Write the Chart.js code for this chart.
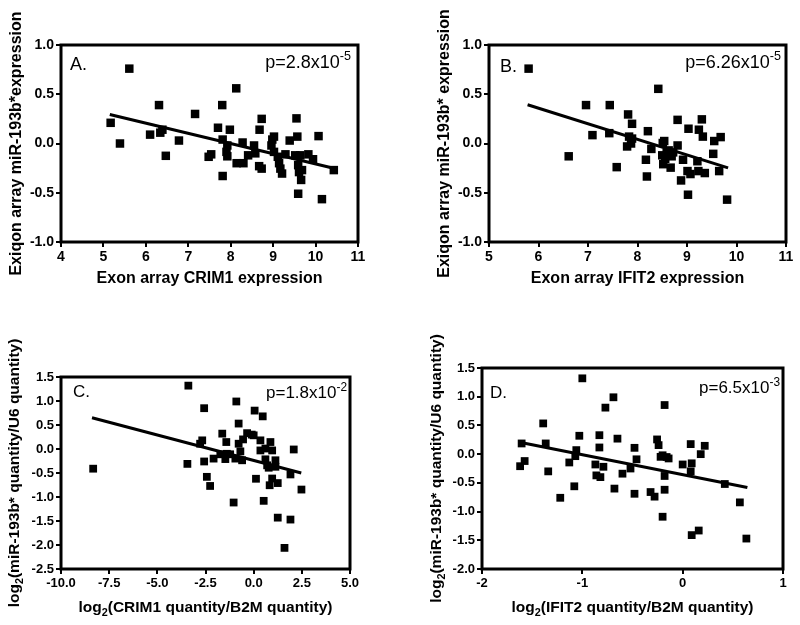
<!DOCTYPE html>
<html>
<head>
<meta charset="utf-8">
<script src="https://cdn.jsdelivr.net/npm/chart.js@4.4.0/dist/chart.umd.min.js"></script>
<style>
  html, body { margin: 0; padding: 0; background: #fff; }
  #wrap { position: relative; width: 800px; height: 625px; }
  canvas { position: absolute; }
</style>
</head>
<body>
<div id="wrap">
  <canvas id="chartA" width="400" height="310" style="left:0;top:0;width:400px;height:310px"></canvas>
  <canvas id="chartB" width="400" height="310" style="left:400px;top:0;width:400px;height:310px"></canvas>
  <canvas id="chartC" width="400" height="315" style="left:0;top:310px;width:400px;height:315px"></canvas>
  <canvas id="chartD" width="400" height="315" style="left:400px;top:310px;width:400px;height:315px"></canvas>
</div>
<script>
// A: exon array CRIM1 vs exiqon miR-193b*
const crim1Exon = [5.17, 5.61, 5.39, 6.10, 6.31, 6.34, 6.39, 6.47, 6.78, 7.16, 7.48, 7.54, 7.70, 7.80, 7.81, 7.81, 7.98, 7.92, 7.90, 7.92,
  8.13, 8.14, 8.28, 8.30, 8.41, 8.55, 8.58, 8.67, 8.68, 8.73, 8.73, 8.96, 8.98, 9.02, 9.02, 9.11, 9.14, 9.17, 9.21, 9.29,
  9.39, 9.52, 9.55, 9.57, 9.59, 9.59, 9.61, 9.64, 9.66, 9.68, 9.83, 9.94, 10.07, 10.15, 10.43];
const mirExiqonA = [0.21, 0.76, 0.00, 0.09, 0.39, 0.11, 0.14, -0.125, 0.03, 0.30, -0.135, -0.11, 0.16, 0.39, 0.04, -0.33, 0.14, -0.02, -0.085, -0.13,
  0.56, -0.20, 0.01, -0.20, -0.12, -0.02, -0.10, -0.23, 0.14, 0.25, -0.255, -0.02, 0.04, 0.07, -0.085, -0.135, -0.20, -0.255, -0.305, -0.11,
  0.03, -0.12, 0.255, 0.07, -0.22, -0.51, -0.29, -0.12, -0.37, -0.27, -0.11, -0.16, 0.075, -0.565, -0.27];
const fitAx = [5.15, 10.45];
const fitAy = [0.295, -0.254];

// B: exon array IFIT2 vs exiqon miR-193b*
const ifit2Exon = [5.80, 6.61, 6.96, 7.09, 7.44, 7.43, 7.58, 7.81, 7.89, 7.83, 7.79, 7.87, 7.89, 8.17, 8.21, 8.19, 8.28, 8.42, 8.51, 8.54,
  8.50, 8.52, 8.56, 8.59, 8.63, 8.67, 8.69, 8.72, 8.81, 8.81, 8.88, 8.92, 9.03, 9.02, 9.01, 9.07, 9.21, 9.24, 9.30, 9.32,
  9.23, 9.36, 9.53, 9.55, 9.65, 9.68, 9.81];
const mirExiqonB = [0.76, -0.13, 0.39, 0.085, 0.39, 0.105, -0.24, 0.295, 0.20, 0.07, -0.03, 0.00, 0.05, -0.165, 0.125, -0.335, -0.055, 0.555, 0.005, 0.025,
  -0.12, -0.21, -0.155, -0.095, -0.07, -0.245, -0.13, -0.09, -0.02, 0.24, -0.375, -0.165, 0.15, -0.52, -0.28, -0.31, -0.18, 0.14, 0.245, 0.07,
  -0.28, -0.30, -0.105, 0.025, -0.28, 0.065, -0.57];
const fitBx = [5.78, 9.83];
const fitBy = [0.393, -0.247];

// C: qPCR CRIM1/B2M vs miR-193b*/U6
const crim1Qpcr = [-8.33, -3.39, -3.44, -2.57, -2.67, -2.78, -2.57, -2.43, -2.26, -2.08, -1.63, -1.73, -1.42, -1.39, -1.47, -1.22, -0.95, -1.04, -0.90, -0.78,
  -0.78, -0.69, -0.60, -0.55, -0.34, -0.10, 0.00, 0.05, 0.12, 0.35, 0.35, 0.47, 0.52, 0.61, 0.61, 0.70, 0.78, 0.83, 0.87, 0.96,
  0.96, 1.13, 1.13, 1.25, 1.25, 1.60, 1.91, 1.91, 2.08, 2.48];
const mirQpcrC = [-0.41, 1.32, -0.31, 0.85, 0.18, 0.11, -0.26, -0.58, -0.77, -0.20, 0.32, -0.11, 0.145, -0.10, -0.21, -0.11, -0.20, -1.115, 0.99, 0.53,
  0.11, -0.05, -0.235, 0.20, 0.33, 0.30, 0.285, 0.80, -0.62, 0.18, -0.03, 0.68, -1.08, 0.01, -0.215, -0.34, -0.39, -0.755, 0.145, -0.03,
  -0.615, -0.235, -0.37, -0.71, -1.43, -2.06, -0.53, -1.47, -0.01, -0.845];
const fitCx = [-8.39, 2.47];
const fitCy = [0.65, -0.50];

// D: qPCR IFIT2/B2M vs miR-193b*/U6
const ifit2Qpcr = [-1.605, -1.62, -1.575, -1.39, -1.365, -1.34, -1.22, -1.13, -1.08, -1.07, -1.06, -1.03, -1.00, -0.87, -0.86, -0.83, -0.83, -0.82, -0.79, -0.77,
  -0.69, -0.68, -0.65, -0.60, -0.52, -0.48, -0.48, -0.46, -0.32, -0.28, -0.255, -0.24, -0.22, -0.20, -0.18, -0.18, -0.18, -0.20, -0.16, -0.14,
  0.00, 0.08, 0.09, 0.08, 0.09, 0.16, 0.18, 0.22, 0.42, 0.57, 0.635];
const mirQpcrD = [0.186, -0.21, -0.12, 0.535, 0.186, -0.30, -0.76, -0.145, -0.56, -0.035, 0.07, 0.32, 1.32, -0.18, -0.37, 0.33, 0.116, -0.40, -0.22, 0.81,
  0.99, -0.60, 0.27, -0.34, -0.25, 0.11, -0.69, -0.09, -0.66, -0.74, 0.256, 0.157, -0.047, -0.02, 0.855, -0.38, -0.62, -1.09, -0.05, -0.075,
  -0.18, 0.175, -0.16, -0.30, -1.41, -1.33, 0.0, 0.145, -0.52, -0.84, -1.47];
const fitDx = [-1.60, 0.645];
const fitDy = [0.198, -0.58];

// tick values
const xTicksA = [4, 5, 6, 7, 8, 9, 10, 11];
const xTicksB = [5, 6, 7, 8, 9, 10, 11];
const yTicksAB = [-1.0, -0.5, 0.0, 0.5, 1.0];
const xTicksC = [-10, -7.5, -5, -2.5, 0, 2.5, 5];
const yTicksC = [-2.5, -2.0, -1.5, -1.0, -0.5, 0.0, 0.5, 1.0, 1.5];
const xTicksD = [-2, -1, 0, 1];
const yTicksD = [-2.0, -1.5, -1.0, -0.5, 0.0, 0.5, 1.0, 1.5];

const FONT = '"Liberation Sans", Arial, Helvetica, sans-serif';
Chart.defaults.font.family = FONT;
Chart.defaults.color = '#000';

const zip = (xs, ys) => xs.map((x, i) => ({ x: x, y: ys[i] }));

// draws text made of normal / sub / sup pieces, y is the baseline
function drawRich(ctx, segs, x, y, size, weight, align) {
  let total = 0;
  const parts = segs.map(s => {
    const sz = (s.sub || s.sup) ? size * 0.7 : size;
    ctx.font = weight + ' ' + sz + 'px ' + FONT;
    const w = ctx.measureText(s.t).width;
    total += w;
    return { s: s, sz: sz, w: w };
  });
  let cx = align === 'center' ? x - total / 2 : (align === 'right' ? x - total : x);
  parts.forEach(p => {
    ctx.font = weight + ' ' + p.sz + 'px ' + FONT;
    let dy = 0;
    if (p.s.sub) dy = size * 0.28;
    if (p.s.sup) dy = -size * 0.42;
    ctx.fillText(p.s.t, cx, y + dy);
    cx += p.w;
  });
}

const decorPlugin = {
  id: 'decor',
  afterDraw(chart) {
    const o = chart.options.plugins.decor;
    const a = chart.chartArea;
    const ctx = chart.ctx;
    ctx.save();
    ctx.fillStyle = '#000';
    ctx.textBaseline = 'alphabetic';
    // frame
    ctx.strokeStyle = '#000';
    ctx.lineWidth = 3;
    ctx.strokeRect(a.left, a.top, a.right - a.left, a.bottom - a.top);
    // panel letter and p value
    drawRich(ctx, [{ t: o.letter }], a.left + o.letterDx, a.top + o.letterDy, o.noteSize, 'normal', 'left');
    drawRich(ctx, o.pval, a.right - o.pDx, a.top + o.pDy, o.noteSize, 'normal', 'right');
    // x title
    drawRich(ctx, o.xTitle, (a.left + a.right) / 2, a.bottom + o.xTitleDy, o.titleSize, 'bold', 'center');
    // y title
    ctx.translate(a.left - o.yTitleDx, (a.top + a.bottom) / 2);
    ctx.rotate(-Math.PI / 2);
    drawRich(ctx, o.yTitle, 0, 0, o.titleSize, 'bold', 'center');
    ctx.restore();
  }
};

function makePanel(id, p) {
  const axis = (ticks, digits, size) => ({
    type: 'linear',
    min: ticks[0],
    max: ticks[ticks.length - 1],
    afterBuildTicks: s => { s.ticks = ticks.map(v => ({ value: v })); },
    border: { display: false },
    grid: { drawOnChartArea: false, color: '#000', lineWidth: 2, tickLength: 5 },
    ticks: {
      font: { size: size, weight: 'bold' },
      color: '#000',
      padding: 2,
      callback: v => Number(v).toFixed(digits)
    }
  });
  const xAxis = axis(p.xTicks, p.xDigits, p.tickSize);
  xAxis.afterFit = s => { s.height = p.xHeight; };
  xAxis.ticks.maxRotation = 0;
  const yAxis = axis(p.yTicks, 1, p.tickSize);
  yAxis.afterFit = s => { s.width = p.yWidth; };

  new Chart(document.getElementById(id), {
    type: 'scatter',
    data: {
      datasets: [
        {
          data: zip(p.xs, p.ys),
          pointStyle: 'rect',
          pointRadius: p.pointRadius,
          pointBorderWidth: 0,
          backgroundColor: '#000',
          borderColor: '#000'
        },
        {
          data: zip(p.fitX, p.fitY),
          showLine: true,
          borderColor: '#000',
          borderWidth: 3,
          pointRadius: 0
        }
      ]
    },
    options: {
      responsive: false,
      animation: false,
      events: [],
      layout: { padding: { top: p.top, right: p.right, left: 0, bottom: 0 } },
      scales: { x: xAxis, y: yAxis },
      plugins: {
        legend: { display: false },
        tooltip: { enabled: false },
        decor: p.decor
      }
    },
    plugins: [decorPlugin]
  });
}

makePanel('chartA', {
  xs: crim1Exon, ys: mirExiqonA, fitX: fitAx, fitY: fitAy,
  xTicks: xTicksA, yTicks: yTicksAB, xDigits: 0, tickSize: 14,
  top: 45, right: 42, yWidth: 61, xHeight: 68, pointRadius: 6,
  decor: {
    letter: 'A.', letterDx: 9, letterDy: 25, noteSize: 18,
    pval: [{ t: 'p=2.8x10' }, { t: '-5', sup: true }], pDx: 7, pDy: 23,
    xTitle: [{ t: 'Exon array CRIM1 expression' }], xTitleDy: 41,
    yTitle: [{ t: 'Exiqon array miR-193b*expression' }], yTitleDx: 40, titleSize: 16
  }
});

makePanel('chartB', {
  xs: ifit2Exon, ys: mirExiqonB, fitX: fitBx, fitY: fitBy,
  xTicks: xTicksB, yTicks: yTicksAB, xDigits: 0, tickSize: 14,
  top: 45, right: 14, yWidth: 89, xHeight: 68, pointRadius: 6,
  decor: {
    letter: 'B.', letterDx: 11, letterDy: 27, noteSize: 18,
    pval: [{ t: 'p=6.26x10' }, { t: '-5', sup: true }], pDx: 5, pDy: 23,
    xTitle: [{ t: 'Exon array IFIT2 expression' }], xTitleDy: 41,
    yTitle: [{ t: 'Exiqon array miR-193b* expression' }], yTitleDx: 40, titleSize: 16
  }
});

makePanel('chartC', {
  xs: crim1Qpcr, ys: mirQpcrC, fitX: fitCx, fitY: fitCy,
  xTicks: xTicksC, yTicks: yTicksC, xDigits: 1, tickSize: 13,
  top: 67, right: 50, yWidth: 61, xHeight: 56, pointRadius: 5.5,
  decor: {
    letter: 'C.', letterDx: 12, letterDy: 20, noteSize: 17,
    pval: [{ t: 'p=1.8x10' }, { t: '-2', sup: true }], pDx: 3, pDy: 21,
    xTitle: [{ t: 'log' }, { t: '2', sub: true }, { t: '(CRIM1 quantity/B2M quantity)' }], xTitleDy: 43,
    yTitle: [{ t: 'log' }, { t: '2', sub: true }, { t: '(miR-193b* quantity/U6 quantity)' }], yTitleDx: 42, titleSize: 15.5
  }
});

makePanel('chartD', {
  xs: ifit2Qpcr, ys: mirQpcrD, fitX: fitDx, fitY: fitDy,
  xTicks: xTicksD, yTicks: yTicksD, xDigits: 0, tickSize: 13,
  top: 58, right: 17, yWidth: 82, xHeight: 56, pointRadius: 5.5,
  decor: {
    letter: 'D.', letterDx: 8, letterDy: 30, noteSize: 17,
    pval: [{ t: 'p=6.5x10' }, { t: '-3', sup: true }], pDx: 3, pDy: 25,
    xTitle: [{ t: 'log' }, { t: '2', sub: true }, { t: '(IFIT2 quantity/B2M quantity)' }], xTitleDy: 43,
    yTitle: [{ t: 'log' }, { t: '2', sub: true }, { t: '(miR-193b* quantity/U6 quantity)' }], yTitleDx: 41, titleSize: 15.5
  }
});
</script>
</body>
</html>
